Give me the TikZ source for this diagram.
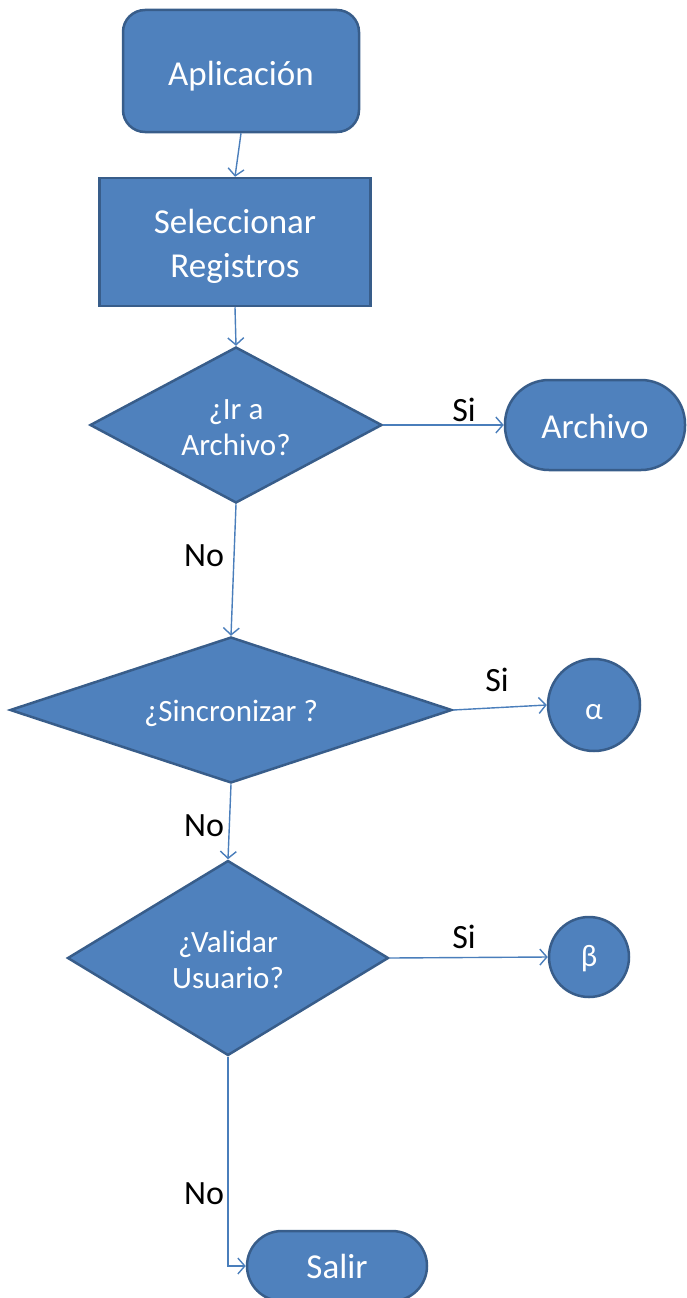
\documentclass[tikz,border=0pt]{standalone}
\usepackage{fontspec}
\setmainfont{Carlito}
\usetikzlibrary{shapes.geometric,arrows.meta}
\definecolor{boxfill}{HTML}{4F81BD}
\definecolor{boxline}{HTML}{385D8A}
\definecolor{conn}{HTML}{4A7EBB}
\tikzset{
  box/.style={draw=boxline,fill=boxfill,line width=2.5pt,inner sep=0pt},
  dia/.style={diamond,draw=boxline,fill=boxfill,line width=2.5pt,inner sep=0pt},
  circ/.style={circle,draw=boxline,fill=boxfill,line width=2.5pt,inner sep=0pt},
  btxt/.style={text=white,align=center,font=\fontsize{35}{44}\selectfont,inner sep=0pt},
  dtxt/.style={text=white,align=center,font=\fontsize{31}{36}\selectfont,inner sep=0pt},
  conn/.style={draw=conn,line width=1.4pt,-{Straight Barb[length=7pt,width=16pt,line width=1.4pt]}},
  lbl/.style={font=\fontsize{34}{40}\selectfont,text=black,inner sep=0pt}
}
\begin{document}
\begin{tikzpicture}[x=1pt,y=-1pt]
\useasboundingbox (0,0) rectangle (687,1298);
\node[box,rounded corners=22pt,minimum width=236pt,minimum height=122pt] (app) at (241,71) {};
\node[box,minimum width=271pt,minimum height=128pt] (sel) at (235,242) {};
\node[dia,minimum width=292pt,minimum height=156pt] (d1) at (236,425) {};
\node[box,rounded corners=44pt,minimum width=180pt,minimum height=90pt] (arch) at (595,425) {};
\node[dia,minimum width=442pt,minimum height=146pt] (d2) at (231,710) {};
\node[circ,minimum size=92pt] (alpha) at (594,705) {};
\node[dia,minimum width=321pt,minimum height=195pt] (d3) at (228,958) {};
\node[circ,minimum size=80pt] (beta) at (589,957) {};
\node[box,rounded corners=35pt,minimum width=180pt,minimum height=70pt] (salir) at (337,1266) {};

\node[btxt] (appT) at ([yshift=-5pt]app.center) {Aplicación};
\node[btxt] (selT) at ([yshift=-4pt]sel.center) {Seleccionar\\Registros};
\node[btxt] (archT) at ([yshift=-1pt]arch.center) {Archivo};
\node[btxt] (salirT) at (salir.center) {Salir};
\node[dtxt] (d1T) at ([yshift=-3pt]d1.center) {¿Ir a\\Archivo?};
\node[dtxt] (d2T) at ([yshift=-3pt]d2.center) {¿Sincronizar ?};
\node[dtxt] (d3T) at ([yshift=-2pt]d3.center) {¿Validar\\Usuario?};
\node[dtxt] (alphaT) at ([yshift=-7pt]alpha.center) {α};
\node[dtxt] (betaT) at ([yshift=-2pt]beta.center) {β};

\draw[conn] (app.south) -- (sel.north);
\draw[conn] (sel.south) -- (d1.north);
\draw[conn] (d1.east) -- (arch.west);
\draw[conn] (d1.south) -- (d2.north);
\draw[conn] (d2.east) -- (alpha.west);
\draw[conn] (d2.south) -- (d3.north);
\draw[conn] (d3.east) -- (beta.west);
\draw[conn] (d3.south) |- (salir.west);

\node[lbl] (l1) at (464,410) {Si};
\node[lbl] (l2) at (204,556) {No};
\node[lbl] (l3) at (497,680) {Si};
\node[lbl] (l4) at (204,826) {No};
\node[lbl] (l5) at (464,937) {Si};
\node[lbl] (l6) at (204,1194) {No};
\end{tikzpicture}
\end{document}
